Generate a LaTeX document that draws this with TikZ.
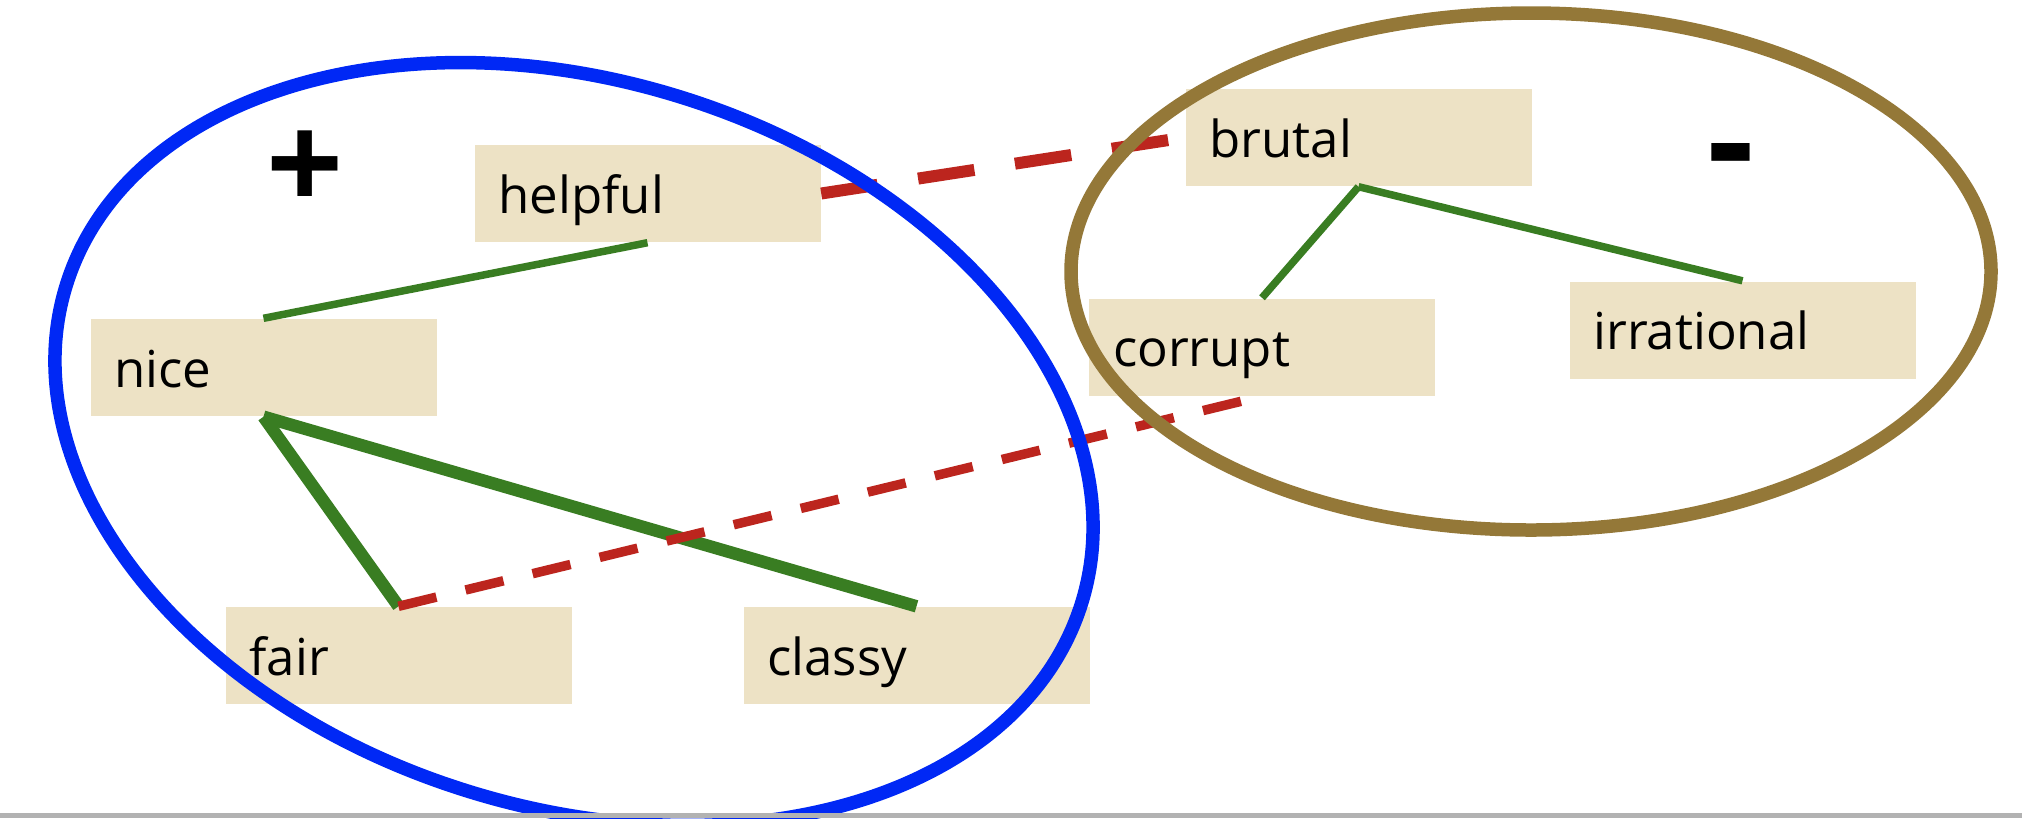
\documentclass[tikz,border=0pt]{standalone}
\usepackage{fontspec}
\setmainfont{Open Sans}
\definecolor{wordfill}{RGB}{237,226,197}
\definecolor{linkgreen}{RGB}{57,125,34}
\definecolor{linkred}{RGB}{188,37,30}
\definecolor{posblue}{RGB}{0,40,245}
\definecolor{negbrown}{RGB}{148,120,56}

\begin{document}
\begin{tikzpicture}[x=.1mm, y=-.1mm,
  word/.style={fill=wordfill, minimum height=9.7mm, inner xsep=2.4mm, inner ysep=0pt, text width=29.8mm, align=left, text height=5mm, text depth=1.1mm, font=\fontsize{14.5}{17}\selectfont},
  sign/.style={inner sep=0pt, font=\fontsize{#1}{42}\selectfont\bfseries},
  synthin/.style={draw=linkgreen, line width=.75mm},
  synthick/.style={draw=linkgreen, line width=1.25mm},
  antonym/.style={draw=linkred, line width=#1, dash pattern=on 5.7mm off 4.1mm},
  ring/.style={line width=1.35mm}]

\useasboundingbox (0,0) rectangle (2022,818);
\clip (0,0) rectangle (2022,818);

\node [word] (helpful) at (647.5,193.5) {helpful};
\node [word] (nice) at (263.5,367.5) {nice};
\node [word] (fair) at (398.5,655.5) {fair};
\node [word] (classy) at (916.5,655.5) {classy};
\node [word] (brutal) at (1358.5,137.5) {brutal};
\node [word] (corrupt) at (1262,347) {corrupt};
\node [word] (irrational) at (1742.5,330) {irrational};

\node [sign=38.5] (plus) at (305,171) {+};
\node [sign=41.5] (minus) at (1731,167) {-};

\draw [synthin] (nice.north) -- (helpful.south);
\draw [synthick] (nice.south) -- (fair.north);
\draw [synthick] (nice.south) -- (classy.north);
\draw [synthin] (brutal.south) -- (corrupt.north);
\draw [synthin] (brutal.south) -- (irrational.north);

\draw [antonym=1.2mm] (helpful.east) -- (brutal.west);
\draw [antonym=.95mm, dash pattern=on 3.9mm off 3mm] (fair.north) -- (corrupt.south);

\draw [ring, draw=posblue, rotate around={-17.5:(574,444)}] (574,444) ellipse [x radius=532, y radius=363];
\draw [ring, draw=negbrown] (1531,271.5) ellipse [x radius=460, y radius=258.5];

\fill [black!30] (0,813) rectangle (2022,818);

\end{tikzpicture}
\end{document}
